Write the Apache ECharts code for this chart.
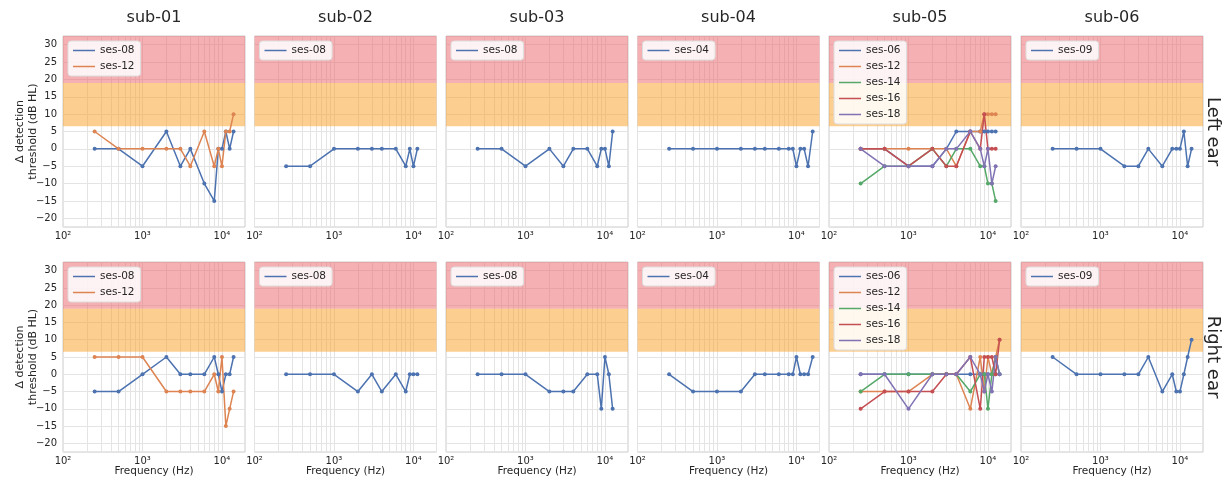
<!DOCTYPE html>
<html><head><meta charset="utf-8">
<script src="https://cdn.jsdelivr.net/npm/echarts@6/dist/echarts.min.js"></script>
<style>html,body{margin:0;padding:0;background:#fff}#c{width:1224px;height:481px}</style>
</head><body><div id="c"></div>
<script>
// ---------- data ----------
const FREQS = [250, 500, 1000, 2000, 3000, 4000, 6000, 8000, 9000, 10000, 11200, 12500, 14000, 16000];
const SUBJECTS = ['sub-01', 'sub-02', 'sub-03', 'sub-04', 'sub-05', 'sub-06'];
const EARS = ['Left ear', 'Right ear'];
const Y_TICKS = [-20, -15, -10, -5, 0, 5, 10, 15, 20, 25, 30];
const X_TICK_LABELS = ['10²', '10³', '10⁴'];
const MINOR_FREQS = [200, 300, 400, 500, 600, 700, 800, 900, 2000, 3000, 4000, 5000, 6000, 7000, 8000, 9000];
const RED_ZONE = [19, 32.5];
const ORANGE_ZONE = [6.5, 19];

const sub01L_ses08 = [0, 0, -5, 5, -5, 0, -10, -15, 0, 0, 5, 0, 5];
const sub01L_ses12 = [5, 0, 0, 0, 0, -5, 5, -5, 0, -5, 5, 5, 10];
const sub01R_ses08 = [-5, -5, 0, 5, 0, 0, 0, 5, 0, -5, 0, 0, 5];
const sub01R_ses12 = [5, 5, 5, -5, -5, -5, -5, 0, -5, 5, -15, -10, -5];

const sub02L_ses08 = [-5, -5, 0, 0, 0, 0, 0, -5, 0, -5, 0];
const sub02R_ses08 = [0, 0, 0, -5, 0, -5, 0, -5, 0, 0, 0];

const sub03L_ses08 = [0, 0, -5, 0, -5, 0, 0, -5, 0, 0, -5, 5];
const sub03R_ses08 = [0, 0, 0, -5, -5, -5, 0, 0, -10, 5, 0, -10];

const sub04L_ses04 = [0, 0, 0, 0, 0, 0, 0, 0, 0, -5, 0, 0, -5, 5];
const sub04R_ses04 = [0, -5, -5, -5, 0, 0, 0, 0, 0, 5, 0, 0, 0, 5];

const sub05L_ses06 = [0, 0, -5, -5, 0, 5, 5, 5, 5, 5, 5, 5];
const sub05L_ses12 = [0, 0, 0, 0, 0, -5, 5, 5, 10, 10, 10, 10];
const sub05L_ses14 = [-10, -5, -5, 0, -5, 0, 0, -5, -5, -10, -10, -15];
const sub05L_ses16 = [0, 0, -5, 0, -5, -5, 5, 0, 10, 0, 0, 0];
const sub05L_ses18 = [0, -5, -5, -5, 0, 0, 5, 0, -5, 0, -10, -5];
const sub05R_ses06 = [0, 0, 0, 0, 0, 0, 0, 0, 0, 0, 0, 0, 0];
const sub05R_ses12 = [-5, -5, -5, 0, 0, 0, -10, 5, -5, 5, 0, 5, 10];
const sub05R_ses14 = [-5, 0, 0, 0, 0, 0, -5, 0, 0, -10, 0, 5, 0];
const sub05R_ses16 = [-10, -5, -5, -5, 0, 0, 5, -10, 5, 5, 5, 0, 10];
const sub05R_ses18 = [0, 0, -10, 0, 0, 0, 5, 0, -5, 0, -5, 5, 0];

const sub06L_ses09 = [0, 0, 0, -5, -5, 0, -5, 0, 0, 0, 5, -5, 0];
const sub06R_ses09 = [5, 0, 0, 0, 0, 5, -5, 0, -5, -5, 0, 5, 10];

const SESSION_COLORS = {
  'ses-04': '#4c72b0', 'ses-06': '#4c72b0', 'ses-08': '#4c72b0', 'ses-09': '#4c72b0',
  'ses-12': '#dd8452', 'ses-14': '#55a868', 'ses-16': '#c44e52', 'ses-18': '#8172b3'
};

const PANELS = [
  { sub: 0, ear: 0, lines: [['ses-08', sub01L_ses08], ['ses-12', sub01L_ses12]] },
  { sub: 1, ear: 0, lines: [['ses-08', sub02L_ses08]] },
  { sub: 2, ear: 0, lines: [['ses-08', sub03L_ses08]] },
  { sub: 3, ear: 0, lines: [['ses-04', sub04L_ses04]] },
  { sub: 4, ear: 0, lines: [['ses-06', sub05L_ses06], ['ses-12', sub05L_ses12], ['ses-14', sub05L_ses14], ['ses-16', sub05L_ses16], ['ses-18', sub05L_ses18]] },
  { sub: 5, ear: 0, lines: [['ses-09', sub06L_ses09]] },
  { sub: 0, ear: 1, lines: [['ses-08', sub01R_ses08], ['ses-12', sub01R_ses12]] },
  { sub: 1, ear: 1, lines: [['ses-08', sub02R_ses08]] },
  { sub: 2, ear: 1, lines: [['ses-08', sub03R_ses08]] },
  { sub: 3, ear: 1, lines: [['ses-04', sub04R_ses04]] },
  { sub: 4, ear: 1, lines: [['ses-06', sub05R_ses06], ['ses-12', sub05R_ses12], ['ses-14', sub05R_ses14], ['ses-16', sub05R_ses16], ['ses-18', sub05R_ses18]] },
  { sub: 5, ear: 1, lines: [['ses-09', sub06R_ses09]] }
];

// ---------- layout ----------
const FONT = 'DejaVu Sans';
const TXT = '#262626';
const GRID_LINE = '#e4e4e4';
const X_MIN = 100, X_MAX = 19500, Y_MIN = -22.5, Y_MAX = 32.5;
const GRID_LEFTS = [63, 254.5, 446, 637.5, 829, 1021];
const GRID_W = 182;
const GRID_TOPS = [36, 262];
const GRID_HS = [191, 190];

const grid = [], xAxis = [], yAxis = [], series = [], legend = [], graphic = [];

PANELS.forEach((p, idx) => {
  const left = GRID_LEFTS[p.sub], top = GRID_TOPS[p.ear], h = GRID_HS[p.ear];
  grid.push({ left: left, top: top, width: GRID_W, height: h, show: true,
    borderColor: '#cccccc', borderWidth: 1, backgroundColor: '#ffffff' });
  xAxis.push({
    type: 'log', logBase: 10, gridIndex: idx, min: X_MIN, max: X_MAX,
    axisLine: { show: false }, axisTick: { show: false },
    axisLabel: {
      fontFamily: FONT, fontSize: 10, color: TXT, margin: 4, showMaxLabel: false,
      formatter: v => {
        const e = Math.round(Math.log10(v));
        return Math.abs(Math.log10(v) - e) < 1e-6 && e >= 2 && e <= 4 ? X_TICK_LABELS[e - 2] : '';
      }
    },
    splitLine: { show: true, lineStyle: { color: GRID_LINE, width: 1 } },
    name: p.ear === 1 ? 'Frequency (Hz)' : '', nameLocation: 'middle', nameGap: 14,
    nameMoveOverlap: false,
    nameTextStyle: { fontFamily: FONT, fontSize: 10.5, color: TXT, verticalAlign: 'top' }
  });
  yAxis.push({
    type: 'value', gridIndex: idx, min: Y_MIN, max: Y_MAX, splitNumber: 11,
    axisLine: { show: false }, axisTick: { show: false },
    axisLabel: {
      show: p.sub === 0, fontFamily: FONT, fontSize: 10, color: TXT, margin: 6,
      showMinLabel: false, showMaxLabel: false,
      formatter: v => Y_TICKS.indexOf(v) >= 0 ? String(v).replace('-', '\u2212') : ''
    },
    splitLine: { show: true, lineStyle: { color: GRID_LINE, width: 1 } },
    name: p.sub === 0 ? 'Δ detection\nthreshold (dB HL)' : '',
    nameLocation: 'middle', nameRotate: 90, nameGap: 23, nameMoveOverlap: false,
    nameTextStyle: { fontFamily: FONT, fontSize: 11, color: TXT, lineHeight: 13 }
  });
  // minor vertical grid lines (drawn beneath bands and data)
  series.push({
    type: 'line', name: '_minor' + idx, xAxisIndex: idx, yAxisIndex: idx, data: [], z: 1, silent: true,
    markLine: {
      z: 1, silent: true, symbol: ['none', 'none'], label: { show: false }, animation: false,
      lineStyle: { color: GRID_LINE, type: 'solid', width: 1 },
      emphasis: { disabled: true },
      data: MINOR_FREQS.map(f => ({ xAxis: f }))
    }
  });
  // threshold bands
  series.push({
    type: 'line', name: '_bands' + idx, xAxisIndex: idx, yAxisIndex: idx, data: [], z: 2, silent: true,
    markArea: {
      z: 2, silent: true, animation: false, emphasis: { disabled: true },
      data: [
        [{ xAxis: X_MIN, yAxis: RED_ZONE[0], itemStyle: { color: 'rgba(235,97,105,0.5)' } }, { xAxis: X_MAX, yAxis: RED_ZONE[1] }],
        [{ xAxis: X_MIN, yAxis: ORANGE_ZONE[0], itemStyle: { color: 'rgba(249,163,45,0.52)' } }, { xAxis: X_MAX, yAxis: ORANGE_ZONE[1] }]
      ]
    }
  });
  p.lines.forEach(([name, vals]) => {
    series.push({
      type: 'line', name: name, xAxisIndex: idx, yAxisIndex: idx, z: 3,
      data: vals.map((v, i) => [FREQS[i], v]),
      color: SESSION_COLORS[name],
      symbol: 'circle', symbolSize: 4, showSymbol: true,
      lineStyle: { width: 1.5, color: SESSION_COLORS[name] },
      itemStyle: { color: SESSION_COLORS[name] },
      emphasis: { disabled: true }
    });
  });
  legend.push({
    z: 6,
    data: p.lines.map(l => ({ name: l[0], textStyle: { fontFamily: FONT, fontSize: 10.5, color: TXT } })),
    orient: 'vertical', left: left + 5, top: top + 5,
    icon: 'rect', itemWidth: 22, itemHeight: 1.5, itemGap: 5, selectedMode: false,
    textStyle: { fontFamily: FONT, fontSize: 10.5, color: TXT },
    backgroundColor: 'rgba(255,255,255,0.85)', borderColor: '#dddddd', borderWidth: 1,
    borderRadius: 3, padding: [4, 6, 4, 5]
  });
});

SUBJECTS.forEach((s, i) => {
  graphic.push({ type: 'text', x: GRID_LEFTS[i] + GRID_W / 2, y: 18,
    style: { text: s, align: 'center', verticalAlign: 'middle', fontFamily: FONT, fontSize: 16, fill: TXT } });
});
EARS.forEach((e, j) => {
  graphic.push({ type: 'text', x: 1213, y: GRID_TOPS[j] + GRID_HS[j] / 2, rotation: -Math.PI / 2,
    style: { text: e, align: 'center', verticalAlign: 'middle', fontFamily: FONT, fontSize: 18, fill: TXT } });
});

const chart = echarts.init(document.getElementById('c'), null, { renderer: 'canvas' });
chart.setOption({
  backgroundColor: '#ffffff', animation: false,
  textStyle: { fontFamily: FONT },
  grid, xAxis, yAxis, series, legend, graphic
});
</script>
</body></html>
